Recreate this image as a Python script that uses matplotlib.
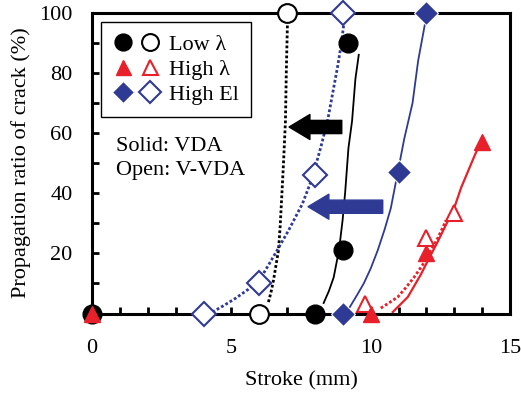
import matplotlib
matplotlib.use('Agg')
from matplotlib import pyplot as plt
from matplotlib.legend_handler import HandlerTuple
from matplotlib.ticker import MultipleLocator

plt.rcParams['font.family'] = ['Liberation Serif', 'DejaVu Serif']

# measured points: solid = VDA, open = V-VDA
low_vda_x = [0, 8, 9, 9.2]
low_vda_y = [0, 0, 21, 90]
low_vvda_x = [6, 7]
low_vvda_y = [0, 100]
high_vda_x = [0, 10, 12, 14]
high_vda_y = [0, 0, 20, 57]
high_vvda_x = [9.8, 12, 13]
high_vvda_y = [3, 25, 33.5]
el_vda_x = [9, 11, 12]
el_vda_y = [0, 47, 100]
el_vvda_x = [4, 6, 8, 9]
el_vvda_y = [0, 10, 46, 100]

# fitted curves
low_vda_fx = [8.31, 8.5, 8.67, 8.86, 8.99, 9.08, 9.2, 9.33, 9.45, 9.57]
low_vda_fy = [3.5, 7.5, 12, 21, 31, 40, 55, 64, 78, 86]
low_vvda_fx = [6.33, 6.42, 6.51, 6.6, 6.69, 6.75, 6.8, 6.87, 6.94, 6.97, 7.01]
low_vvda_fy = [3.8, 7, 11, 16, 21, 29, 37.6, 50, 64, 80, 96]
high_vda_fx = [10.79, 11.33, 11.8, 12.1, 12.41, 12.7, 12.99, 13.25, 13.5, 13.75, 13.9]
high_vda_fy = [0.5, 5.5, 13, 18.5, 24, 29.5, 35, 42, 47.5, 53, 56]
high_vvda_fx = [10.36, 10.65, 10.97, 11.25, 11.55, 11.85, 12.16, 12.4, 12.59, 12.7]
high_vvda_fy = [1.8, 3.5, 5.5, 8.5, 12, 16, 21, 25, 28.7, 31]
el_vda_fx = [9.24, 9.5, 9.75, 10.0, 10.25, 10.5, 10.72, 10.95, 11.2, 11.5, 11.7, 11.94]
el_vda_fy = [2, 6, 10, 15, 21, 28, 35, 46, 58, 70, 84, 96]
el_vvda_fx = [4.32, 4.7, 5.14, 5.6, 6.1, 6.58, 7.05, 7.55, 7.9, 8.2, 8.45, 8.65, 8.81, 8.95, 9.03]
el_vvda_fy = [0.5, 2.5, 5, 8, 12.5, 20, 27.6, 36.5, 45, 55, 64, 74, 82, 90, 96]

black = 'black'
red = '#e8202a'
blue = '#2e3a94'

fig = plt.figure(figsize=(5.21, 3.96), dpi=100)
ax = fig.add_axes([0.1766, 0.2083, 0.8025, 0.7597])

# curves
dots = (0, (1, 0.8))
ax.plot(low_vda_fx, low_vda_fy, color=black, lw=1.3)
ax.plot(el_vda_fx, el_vda_fy, color=blue, lw=1.3)
ax.plot(high_vda_fx, high_vda_fy, color=red, lw=1.6)
ax.plot(low_vvda_fx, low_vvda_fy, color=black, lw=2, ls=dots)
ax.plot(el_vvda_fx, el_vvda_fy, color=blue, lw=2, ls=dots)
ax.plot(high_vvda_fx, high_vvda_fy, color=red, lw=2, ls=dots)

# markers
m_low_o, = ax.plot(low_vvda_x, low_vvda_y, 'o', ms=13.5, mfc='white', mec=black, mew=1.5, ls='none', clip_on=False, zorder=4)
m_el_o, = ax.plot(el_vvda_x, el_vvda_y, 'D', ms=12, mfc='white', mec=blue, mew=1.5, ls='none', clip_on=False, zorder=4)
m_high_o, = ax.plot(high_vvda_x, high_vvda_y, '^', ms=12, mfc='white', mec=red, mew=1.5, ls='none', clip_on=False, zorder=4)
m_low_s, = ax.plot(low_vda_x, low_vda_y, 'o', ms=13.5, color=black, ls='none', clip_on=False, zorder=5)
m_el_s, = ax.plot(el_vda_x, el_vda_y, 'D', ms=12, color=blue, mec='white', mew=0.8, ls='none', clip_on=False, zorder=5)
m_high_s, = ax.plot(high_vda_x, high_vda_y, '^', ms=12, color=red, ls='none', clip_on=False, zorder=6)

# arrows
style = 'simple,head_width=1.8,head_length=1.5,tail_width=0.95'
ax.annotate('', xy=(7.07, 62), xytext=(8.96, 62),
            arrowprops=dict(arrowstyle=style, mutation_scale=10, color=black, shrinkA=0, shrinkB=0))
ax.annotate('', xy=(7.75, 35.5), xytext=(10.43, 35.5),
            arrowprops=dict(arrowstyle=style, mutation_scale=10, color=blue, shrinkA=0, shrinkB=0))

ax.text(0.85, 54, 'Solid: VDA', fontsize=16)
ax.text(0.85, 46, 'Open: V-VDA', fontsize=16)

leg = ax.legend([(m_low_s, m_low_o), (m_high_s, m_high_o), (m_el_s, m_el_o)],
                ['Low λ', 'High λ', 'High El'],
                handler_map={tuple: HandlerTuple(ndivide=None, pad=0.3)},
                loc='upper left', bbox_to_anchor=(0.022, 0.968), borderaxespad=0,
                fontsize=16, fancybox=False, edgecolor='black', framealpha=1,
                handlelength=2.1, handletextpad=0.4, labelspacing=0.2,
                borderpad=0.55, markerscale=0.9)
leg.get_frame().set_linewidth(1)

ax.set_xlim(0, 15)
ax.set_ylim(0, 100)
ax.set_xticks([0, 5, 10, 15])
ax.set_yticks([20, 40, 60, 80, 100])
ax.xaxis.set_minor_locator(MultipleLocator(1))
ax.yaxis.set_minor_locator(MultipleLocator(10))
ax.tick_params(which='both', direction='in', length=5, width=2, labelsize=16,
               top=False, right=False)
ax.tick_params(axis='x', pad=18)
ax.tick_params(axis='y', pad=14)
for s in ax.spines.values():
    s.set_linewidth(2.2)

ax.set_xlabel('Stroke (mm)', fontsize=16, labelpad=10)
ax.set_ylabel('Propagation ratio of crack (%)', fontsize=16, labelpad=6)

fig.savefig('out.png', dpi=100)
